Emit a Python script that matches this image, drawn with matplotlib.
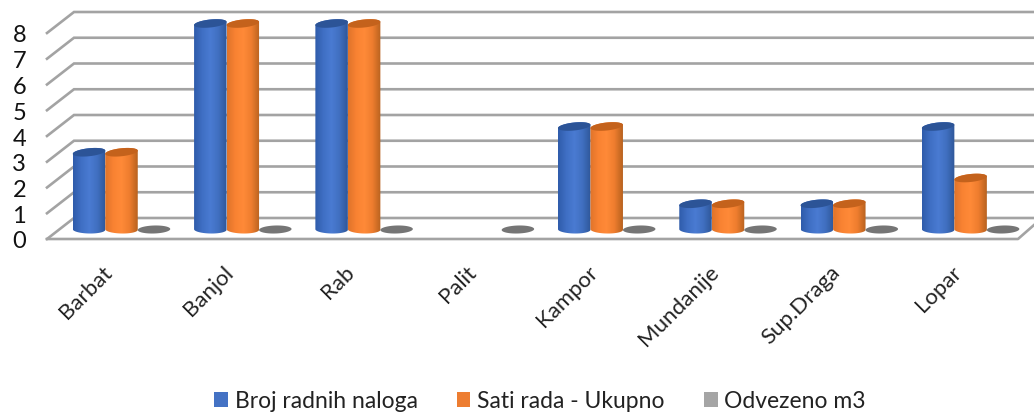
import numpy as np
import matplotlib
matplotlib.use('Agg')
from matplotlib import pyplot as plt
from matplotlib.colors import LinearSegmentedColormap
from matplotlib.patches import PathPatch, Patch
from matplotlib.path import Path
from matplotlib.transforms import ScaledTranslation

categories = ['Barbat', 'Banjol', 'Rab', 'Palit', 'Kampor', 'Mundanije', 'Sup.Draga', 'Lopar']
broj_naloga = [3, 8, 8, None, 4, 1, 1, 4]
sati_rada = [3, 8, 8, None, 4, 1, 1, 2]
odvezeno = [0, 0, 0, 0, 0, 0, 0, 0]
yticks = [0, 1, 2, 3, 4, 5, 6, 7, 8]
legend_names = ['Broj radnih naloga', 'Sati rada - Ukupno', 'Odvezeno m3']

plt.rcParams['font.family'] = ['Lato', 'DejaVu Sans']

W, H = 1034, 414
PX_X = 121.3   # pixels per category
PX_Y = 25.75   # pixels per unit
GRID = '#a3a3a3'

fig = plt.figure(figsize=(W/100, H/100), dpi=100)
# axes: left edge = front of the floor, bottom = front floor line
ax = fig.add_axes([47/W, 1-240/H, (W-47)/W, 235/H])
ax.set_xlim((47-121.5)/PX_X, (W-121.5)/PX_X)
ax.set_ylim(0, 235/PX_Y)
for s in ax.spines.values():
    s.set_visible(False)
ax.patch.set_visible(False)

dx = 27/PX_X   # depth of the floor
dy = 21/PX_Y
bar_dy = 9.5/PX_Y  # bars stand this far behind the front line
bw = 32.5/PX_X
xl, xr = ax.get_xlim()

# back wall gridlines and left wall
for v in yticks:
    ax.plot([xl, xl+dx, xr], [v, v+dy, v+dy], color=GRID, lw=1.9, zorder=1, clip_on=False,
            solid_joinstyle='miter')
# floor front edge
ax.plot([xl, (1018-121.5)/PX_X, xr], [0, 0, 14/PX_Y], color=GRID, lw=1.9, zorder=1, clip_on=False)

blue = LinearSegmentedColormap.from_list('b', ['#2f5cab', '#3f6fc4', '#4a7bd2', '#406fc0', '#2f5799'])
orange = LinearSegmentedColormap.from_list('o', ['#e0742a', '#f98232', '#ff8a38', '#ee7d2e', '#b8621f'])
grad = np.linspace(0, 1, 64).reshape(1, -1)


def ellipse(xc, yc, tilt=0.1, n=60):
    t = np.linspace(0, 2*np.pi, n)
    ex = xc + bw/2*np.cos(t)
    ey = yc + 4.0/PX_Y*np.sin(t) + tilt*(bw/2*np.cos(t))*PX_X/PX_Y
    return ex, ey


def cylinder(xc, val, cmap, capcolor):
    y0 = bar_dy
    y1 = val + bar_dy
    tx, ty = ellipse(xc, y1)
    bx, by = ellipse(xc, y0, tilt=-0.02)
    # outline: bottom half of the base, up the right side, top half of the cap, back down
    lower = np.linspace(0, 2*np.pi, len(bx)) >= np.pi
    upper = np.linspace(0, 2*np.pi, len(tx)) <= np.pi
    xs = np.r_[bx[lower], tx[upper]]
    ys = np.r_[by[lower], ty[upper]]
    verts = np.c_[xs, ys]
    body = PathPatch(Path(np.r_[verts, verts[:1]], closed=True), fc='none', ec='none', transform=ax.transData)
    ax.add_patch(body)
    im = ax.imshow(grad, cmap=cmap, aspect='auto', extent=(xc-bw/2, xc+bw/2, y0-0.3, y1+0.3),
                   zorder=3, interpolation='bilinear')
    im.set_clip_path(body)
    ax.fill(tx, ty, color=capcolor, zorder=4, lw=0)


for i in range(len(categories)):
    if broj_naloga[i] is not None:
        cylinder(i-bw, broj_naloga[i], blue, '#2c5497')
    if sati_rada[i] is not None:
        cylinder(i, sati_rada[i], orange, '#c4621c')
    gx, gy = ellipse(i+bw, odvezeno[i]+bar_dy, tilt=0.03)
    ax.fill(gx, gy, color='#757575', zorder=3, lw=0)

ax.set_xlim(xl, xr)
ax.set_ylim(0, 235/PX_Y)

ax.set_yticks(yticks)
ax.tick_params(axis='y', length=0, pad=15, labelsize=17, labelcolor='#111111')
ax.set_xticks(range(len(categories)))
ax.set_xticklabels(categories, rotation=45, ha='right', rotation_mode='anchor', fontsize=16, color='#222222')
ax.tick_params(axis='x', length=0, pad=16)
off = ScaledTranslation(-14/72, 0, fig.dpi_scale_trans)
for lab in ax.get_xticklabels():
    lab.set_transform(lab.get_transform()+off)

handles = [Patch(fc='#4472c4', label=legend_names[0]),
           Patch(fc='#ed7d31', label=legend_names[1]),
           Patch(fc='#a5a5a5', label=legend_names[2])]
fig.legend(handles=handles, loc='center', bbox_to_anchor=(540/W, 1-402/H), ncol=3, frameon=False,
           fontsize=16.5, handlelength=0.6, handleheight=0.6, handletextpad=0.3, columnspacing=1.7,
           labelcolor='#222222')

fig.savefig('out.png', dpi=100)
